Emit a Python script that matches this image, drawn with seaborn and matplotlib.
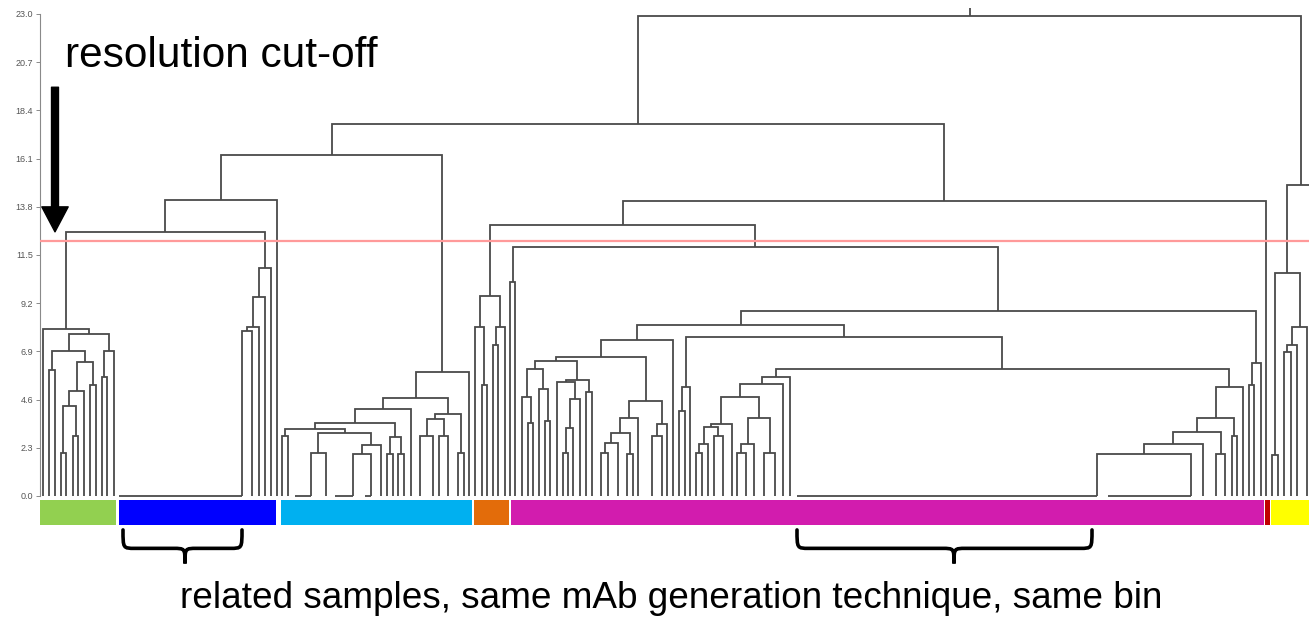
import matplotlib
matplotlib.use("Agg")
import matplotlib.pyplot as plt
from matplotlib.collections import LineCollection
from matplotlib.path import Path
from matplotlib.patches import PathPatch
import seaborn as sns

# ---------------- data ----------------
y_ticks = [0.0, 2.3, 4.6, 6.9, 9.2, 11.5, 13.8, 16.1, 18.4, 20.7, 23.0]
cutoff_height = 12.17

# group colour bar along the leaf axis
group_start = [40, 119, 281, 474, 511, 1265, 1271]
group_end = [116, 276, 472, 509, 1264, 1270, 1312]
group_colors = ["#92d050", "#0000ff", "#00b0f0", "#e36c0a", "#d21cae", "#c00000", "#ffff00"]


def F(x0, x1):
    """group of identical samples merged at distance 0"""
    return ("flat", x0, x1)


# dendrogram: (merge height, left, right); leaves are leaf positions
green_tree = (7.97, 43.3, (7.71, (6.92, (6.01, 49.5, 55.0),
                                   (6.41, (5.02, (4.29, (2.04, 60.7, 66.0), (2.86, 72.7, 78.3)), 84.0),
                                    (5.30, 90.0, 96.0))),
                           (6.92, (5.69, 101.7, 106.7), 114.0)))

blue_tree = (10.88, (9.51, (8.05, (7.87, F(119.3, 241.7), 251.7), 259.3), 265.0), 270.7)

cyan_tree = (5.92, (4.66, (4.14, (3.47, (3.18, (2.86, 281.7, 287.7),
                                          (3.02, (2.04, F(295.0, 310.7), 326.0),
                                           (2.43, (2.00, F(335.0, 352.7), F(365.0, 370.7)), 380.7))),
                                  (2.83, (2.00, 386.7, 392.7), (2.00, 398.3, 404.0))), 410.7),
                    (3.91, (3.67, (2.86, 420.0, 433.3), (2.86, 439.3, 447.7)), (2.04, 458.3, 464.0))),
             469.3)

orange_tree = (9.54, (8.08, 475.0, (5.30, 481.7, 486.7)), (8.08, (7.20, 493.3, 498.3), 505.0))

magenta_left = (7.44, (6.65, (6.46, (6.06, (4.74, 522.3, (3.50, 528.3, 533.3)),
                                     (5.09, 539.3, (3.59, 545.0, 550.0))),
                              (5.53, (5.45, 556.7, (4.61, (3.23, (2.04, 563.3, 568.3), 573.3), 580.0)),
                               (4.98, 586.0, 591.7))),
                       (4.55, (3.71, (3.02, (2.51, (2.04, 601.0, 608.3), 617.7), (2.00, 626.7, 632.7)), 638.3),
                        (3.44, (2.88, 651.7, 661.7), 666.7))),
                672.7)

magenta_mid = (7.60, (5.21, (4.05, 679.3, 685.0), 690.0),
               (6.04, (5.66, (5.34, (4.71, (3.44, (3.31, (2.47, (2.04, 696.0, 701.7), 708.3),
                                                   (2.88, 714.0, 722.7)), 731.7),
                                     (3.71, (2.48, (2.04, 736.7, 746.0), 754.0), (2.04, 764.0, 775.0))),
                              783.3), 790.0),
                (5.19, (3.72, (3.03, (2.48, (2.00, F(797.0, 1097.3), F(1108.0, 1191.0)), 1202.7),
                               (2.00, 1216.0, 1225.0)),
                        (2.88, 1231.7, 1236.7)), 1242.7)))

magenta_right = (6.36, (5.30, 1249.3, 1254.0), 1261.0)

yellow_tree = (14.84, (10.65, (1.96, 1272.0, 1278.0),
                       (8.08, (7.20, (6.88, 1283.7, 1291.0), 1297.0), 1307.0)), 1315.0)

upper_left = (16.27, (14.12, (12.60, green_tree, blue_tree), 277.0), cyan_tree)
magenta_tree = (8.82, (8.16, magenta_left, magenta_mid), magenta_right)
upper_right = (14.07, (12.93, orange_tree, (11.88, (10.21, 510.0, 515.0), magenta_tree)), 1266.0)
root_tree = (22.90, (17.75, upper_left, upper_right), yellow_tree)
root_top = 23.3

# brackets under the colour bar: (left end, tip, right end)
brackets = [(123, 185, 242), (797, 954, 1092)]

# ---------------- style ----------------
sns.set_theme(style="white")
plt.rcParams["font.family"] = ["Liberation Sans", "DejaVu Sans"]
plt.rcParams["text.color"] = "black"

W, H = 1309, 619
fig = plt.figure(figsize=(W / 100, H / 100), dpi=100)
y0, y1 = -1.5, 23.5
ax = fig.add_axes([40 / W, (H - 527.4) / H, 1269 / W, 524 / H])
ax.set_xlim(40, 1309)
ax.set_ylim(y0, y1)
ax.set_facecolor("white")


def draw(node, paths):
    if not isinstance(node, tuple):
        return float(node), 0.0
    if node[0] == "flat":
        paths.append([(node[1], 0.0), (node[2], 0.0)])
        return node[2], 0.0
    h, left, right = node
    xl, hl = draw(left, paths)
    xr, hr = draw(right, paths)
    paths.append([(xl, hl), (xl, h), (xr, h), (xr, hr)])
    return (xl + xr) / 2.0, h


paths = []
xr_, hr_ = draw(root_tree, paths)
paths.append([(xr_, hr_), (xr_, root_top)])
lc = LineCollection(paths, colors="#4a4a4a", linewidths=1.3, joinstyle="miter", capstyle="butt")
ax.add_collection(lc)

# cut-off line
ax.axhline(cutoff_height, color="#ff9a9a", lw=1.6, zorder=3)

# colour bar
bar_bottom, bar_top = -1.38, -0.19
for s, e, c in zip(group_start, group_end, group_colors):
    ax.bar((s + e) / 2, bar_top - bar_bottom, width=e - s, bottom=bar_bottom,
           color=c, edgecolor="none", clip_on=False)

# brackets
ytop, ymid, ytip = -1.62, -2.50, -3.22
for (a, c, b) in brackets:
    r = 12
    verts = [(a, ytop), (a, ymid), (a, ymid), (a + r, ymid),
             (c - r, ymid), (c, ymid), (c, ymid), (c, ytip),
             (c, ymid), (c, ymid), (c + r, ymid),
             (b - r, ymid), (b, ymid), (b, ymid), (b, ytop)]
    codes = [Path.MOVETO, Path.CURVE4, Path.CURVE4, Path.CURVE4,
             Path.LINETO, Path.CURVE4, Path.CURVE4, Path.CURVE4,
             Path.CURVE4, Path.CURVE4, Path.CURVE4,
             Path.LINETO, Path.CURVE4, Path.CURVE4, Path.CURVE4]
    ax.add_patch(PathPatch(Path(verts, codes), fill=False, lw=2.6, color="black",
                           clip_on=False, capstyle="round"))

# axis styling
for side in ["top", "right", "bottom"]:
    ax.spines[side].set_visible(False)
ax.spines["left"].set_bounds(0, 23)
ax.spines["left"].set_color("#8a8a8a")
ax.spines["left"].set_linewidth(0.8)
ax.set_xticks([])
ax.set_yticks(y_ticks)
ax.set_yticklabels([f"{t:.1f}" for t in y_ticks])
ax.tick_params(axis="y", left=True, length=3, width=0.7, color="#8a8a8a",
               labelsize=6.5, labelcolor="#555555", pad=2)

# arrow
ax.annotate("", xy=(55, 12.6), xytext=(55, 19.5),
            arrowprops=dict(arrowstyle="simple,head_width=1.9,head_length=1.8,tail_width=0.5",
                            mutation_scale=10, color="black", shrinkA=0, shrinkB=0))

fig.text(65 / W, (H - 67) / H, "resolution cut-off", fontsize=30.5, va="baseline", ha="left",
         color="black")
fig.text(671 / W, (H - 608) / H, "related samples, same mAb generation technique, same bin",
         fontsize=26.6, va="baseline", ha="center", color="black")

fig.savefig("out.png", dpi=100, facecolor="white")
